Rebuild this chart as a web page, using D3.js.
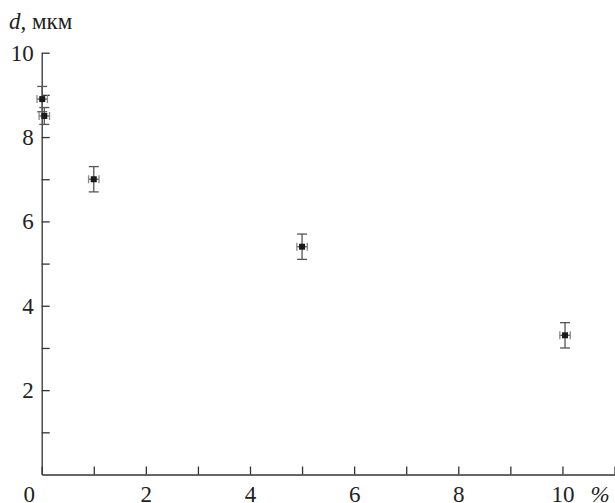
<!DOCTYPE html>
<html>
<head>
<meta charset="utf-8">
<script src="https://cdn.jsdelivr.net/npm/d3@7"></script>
<style>
  body { margin: 0; background: #fff; }
</style>
</head>
<body>
<script>
// concentration, %
var conc = [0.01, 0.05, 1.0, 5.0, 10.05];
var concErr = [0.1, 0.1, 0.1, 0.1, 0.1];
// particle size d, мкм
var size = [8.9, 8.5, 7.0, 5.4, 3.3];
var sizeErr = [0.3, 0.2, 0.3, 0.3, 0.3];

var xTicks = [0, 1, 2, 3, 4, 5, 6, 7, 8, 9, 10, 11];
var xLabels = [0, 2, 4, 6, 8, 10];
var yTicks = [1, 2, 3, 4, 5, 6, 7, 8, 9, 10];
var yLabels = [2, 4, 6, 8, 10];

var width = 615, height = 503;
var serif = '"Liberation Serif"';

var svg = d3.select("body").append("svg")
    .attr("width", width)
    .attr("height", height);

var x = d3.scaleLinear().domain([0, 11]).range([41.7, 614.5]);
var y = d3.scaleLinear().domain([0, 10]).range([474.5, 52.7]);

// оси
var xAxis = svg.append("g")
    .attr("transform", "translate(0," + y(0) + ")")
    .call(d3.axisBottom(x)
        .tickValues(xTicks)
        .tickSizeInner(-8)
        .tickSizeOuter(0)
        .tickPadding(11)
        .tickFormat(function (d) { return xLabels.indexOf(d) >= 0 ? d : ""; }));

var yAxis = svg.append("g")
    .attr("transform", "translate(" + x(0) + ",0)")
    .call(d3.axisLeft(y)
        .tickValues(yTicks)
        .tickSizeInner(-8)
        .tickSizeOuter(0)
        .tickPadding(8)
        .tickFormat(function (d) { return yLabels.indexOf(d) >= 0 ? d : ""; }));

xAxis.attr("font-family", null).attr("font-size", null);
yAxis.attr("font-family", null).attr("font-size", null);

svg.selectAll(".domain, .tick line")
    .attr("stroke", "#333")
    .attr("stroke-width", 1.3);
svg.selectAll(".tick text")
    .attr("font-size", 23)
    .style("font-family", serif)
    .attr("fill", "#222");

// ноль сдвинут влево от начала координат
xAxis.selectAll(".tick text")
    .filter(function (d) { return d === 0; })
    .attr("dx", -13);

// подписи осей
var title = svg.append("text")
    .attr("x", 9)
    .attr("y", 29)
    .attr("font-size", 23)
    .attr("fill", "#222")
    .style("font-family", serif);
title.append("tspan").attr("font-style", "italic").text("d");
title.append("tspan").text(", мкм");

svg.append("text")
    .attr("x", 600)
    .attr("y", y(0) + 11)
    .attr("dy", "0.71em")
    .attr("text-anchor", "middle")
    .attr("font-size", 23)
    .attr("font-style", "italic")
    .attr("fill", "#222")
    .style("font-family", serif)
    .text("%");

// точки с погрешностями
var pts = conc.map(function (c, i) {
    return { x: c, y: size[i], ex: concErr[i], ey: sizeErr[i] };
});

var g = svg.selectAll(".pt")
    .data(pts)
    .enter()
    .append("g")
    .attr("class", "pt");

var barColor = "#555";

// вертикальные
g.append("line")
    .attr("x1", function (d) { return x(d.x); })
    .attr("x2", function (d) { return x(d.x); })
    .attr("y1", function (d) { return y(d.y + d.ey); })
    .attr("y2", function (d) { return y(d.y - d.ey); })
    .attr("stroke", barColor).attr("stroke-width", 1.3);
[1, -1].forEach(function (s) {
    g.append("line")
        .attr("x1", function (d) { return x(d.x) - 5; })
        .attr("x2", function (d) { return x(d.x) + 5; })
        .attr("y1", function (d) { return y(d.y + s * d.ey); })
        .attr("y2", function (d) { return y(d.y + s * d.ey); })
        .attr("stroke", barColor).attr("stroke-width", 1.3);
});

// горизонтальные
g.append("line")
    .attr("x1", function (d) { return x(d.x - d.ex); })
    .attr("x2", function (d) { return x(d.x + d.ex); })
    .attr("y1", function (d) { return y(d.y); })
    .attr("y2", function (d) { return y(d.y); })
    .attr("stroke", barColor).attr("stroke-width", 1.3);
[1, -1].forEach(function (s) {
    g.append("line")
        .attr("x1", function (d) { return x(d.x + s * d.ex); })
        .attr("x2", function (d) { return x(d.x + s * d.ex); })
        .attr("y1", function (d) { return y(d.y) - 4; })
        .attr("y2", function (d) { return y(d.y) + 4; })
        .attr("stroke", "#888").attr("stroke-width", 1.3);
});

g.append("rect")
    .attr("x", function (d) { return x(d.x) - 3; })
    .attr("y", function (d) { return y(d.y) - 3; })
    .attr("width", 6)
    .attr("height", 6)
    .attr("fill", "#1a1a1a");
</script>
</body>
</html>
